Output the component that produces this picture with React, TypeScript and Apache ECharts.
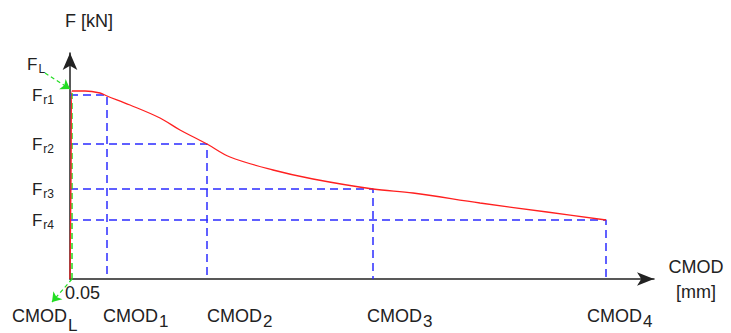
import React, { useEffect, useRef } from "react";
import * as echarts from "echarts";

// curve (abstract schematic units: x = CMOD, y = F)
const curveX = [0, 1, 2, 15, 30, 37, 60, 90, 110, 137, 160, 203, 243, 303, 343, 410, 477, 536];
const curveY = [0, 100, 188, 188, 186, 183, 174, 161, 149, 135, 122, 109, 100, 90, 86, 76, 67, 59];
// characteristic points
const cmodMarks = [37, 137, 303, 536];
const frMarks = [184, 135, 90, 59];
const frSubs = ["r1", "r2", "r3", "r4"];
const cmodSubs = ["1", "2", "3", "4"];
const cmodL = 2;
const fL = 190;
const xMax = 584;
const yMax = 226;

const FONT = "'Liberation Sans', Arial, sans-serif";
const TXT = "#222";
const BLUE = "#2b2bff";
const GREEN = "#22dd22";

export default function App() {
  const ref = useRef<HTMLDivElement>(null);
  useEffect(() => {
    if (!ref.current) return;
    const chart = echarts.init(ref.current, undefined, { renderer: "svg" });

    const guideSeries = cmodMarks.map((cx, i) => ({
      type: "line",
      data: [
        [0, frMarks[i]],
        [cx, frMarks[i]],
        [cx, 0],
      ],
      showSymbol: false,
      silent: true,
      z: 2,
      lineStyle: { color: BLUE, width: 1.5, type: [8, 5] },
    }));

    const subRich = (pad: number) => ({
      fontSize: 17,
      lineHeight: 15,
      fontFamily: FONT,
      fill: TXT,
      verticalAlign: "middle",
      padding: [pad, 0, 0, 1],
    });
    const mainRich = { fontSize: 18, lineHeight: 22, fontFamily: FONT, fill: TXT, verticalAlign: "middle" };

    const cmodLefts = [103, 207, 367, 587];

    chart.setOption({
      animation: false,
      grid: { left: 70, right: 77, top: 53, bottom: 54, containLabel: false },
      xAxis: {
        type: "value",
        min: 0,
        max: xMax,
        name: "CMOD\n[mm]",
        nameLocation: "end",
        nameGap: 42,
        nameTextStyle: { fontSize: 18, fontFamily: FONT, color: TXT, align: "center", lineHeight: 25, padding: [4, 0, 0, 0] },
        axisLine: {
          show: true,
          symbol: ["none", "arrow"],
          symbolSize: [10, 17],
          lineStyle: { color: "#222", width: 1.5 },
        },
        axisTick: { show: false },
        axisLabel: { show: false },
        splitLine: { show: false },
      },
      yAxis: {
        type: "value",
        min: 0,
        max: yMax,
        name: "F [kN]",
        nameLocation: "end",
        nameGap: 23,
        nameTextStyle: { fontSize: 18, fontFamily: FONT, color: TXT, padding: [0, 0, 0, 38] },
        axisLine: {
          show: true,
          symbol: ["none", "arrow"],
          symbolSize: [11, 17],
          lineStyle: { color: "#222", width: 1.5 },
        },
        axisTick: { show: false },
        splitLine: { show: false },
        axisLabel: {
          show: true,
          customValues: frMarks,
          margin: 16,
          formatter: (v: number) => {
            const i = frMarks.indexOf(v);
            return "{f|F}{s|" + (i >= 0 ? frSubs[i] : "") + "}";
          },
          rich: {
            f: { fontSize: 17, lineHeight: 20, fontFamily: FONT, color: TXT, verticalAlign: "middle" },
            s: { fontSize: 12, lineHeight: 12, fontFamily: FONT, color: TXT, verticalAlign: "middle", padding: [9, 0, 0, 1] },
          },
        },
      },
      series: [
        ...guideSeries,
        {
          type: "line",
          data: [
            [cmodL, 0],
            [cmodL, fL],
          ],
          showSymbol: false,
          silent: true,
          z: 3,
          clip: false,
          lineStyle: { color: GREEN, width: 1.5, type: [6, 4] },
          markLine: {
            silent: true,
            symbol: ["none", "arrow"],
            symbolSize: 9,
            label: { show: false },
            lineStyle: { color: GREEN, width: 1.2, type: [4, 3] },
            data: [
              [{ x: 45, y: 73 }, { coord: [0, fL] }],
              [{ coord: [cmodL, 0] }, { x: 52, y: 302 }],
            ],
          },
        },
        {
          type: "line",
          data: curveX.map((x, i) => [x, curveY[i]]),
          showSymbol: false,
          silent: true,
          smooth: 0.35,
          z: 4,
          lineStyle: { color: "#ff2020", width: 1.3 },
        },
      ],
      graphic: [
        {
          type: "text",
          x: 27,
          y: 64,
          style: {
            text: "{f|F}{s|L}",
            verticalAlign: "middle",
            rich: {
              f: { fontSize: 17, lineHeight: 20, fontFamily: FONT, fill: TXT, verticalAlign: "middle" },
              s: { fontSize: 12, lineHeight: 12, fontFamily: FONT, fill: TXT, verticalAlign: "middle", padding: [9, 0, 0, 1] },
            },
          },
        },
        {
          type: "text",
          x: 65,
          y: 293,
          style: { text: "0.05", fontSize: 18, fontFamily: FONT, fill: TXT, verticalAlign: "middle" },
        },
        {
          type: "text",
          x: 12,
          y: 316,
          style: {
            text: "{a|CMOD}{b|L}",
            verticalAlign: "middle",
            rich: { a: mainRich, b: subRich(18) },
          },
        },
        ...cmodSubs.map((s, i) => ({
          type: "text",
          x: cmodLefts[i],
          y: 316,
          style: {
            text: "{a|CMOD}{b|" + s + "}",
            verticalAlign: "middle",
            rich: { a: mainRich, b: subRich(10) },
          },
        })),
      ],
    });
    return () => chart.dispose();
  }, []);
  return <div ref={ref} style={{ position: "absolute", left: 0, top: 0, width: 731, height: 333 }} />;
}
